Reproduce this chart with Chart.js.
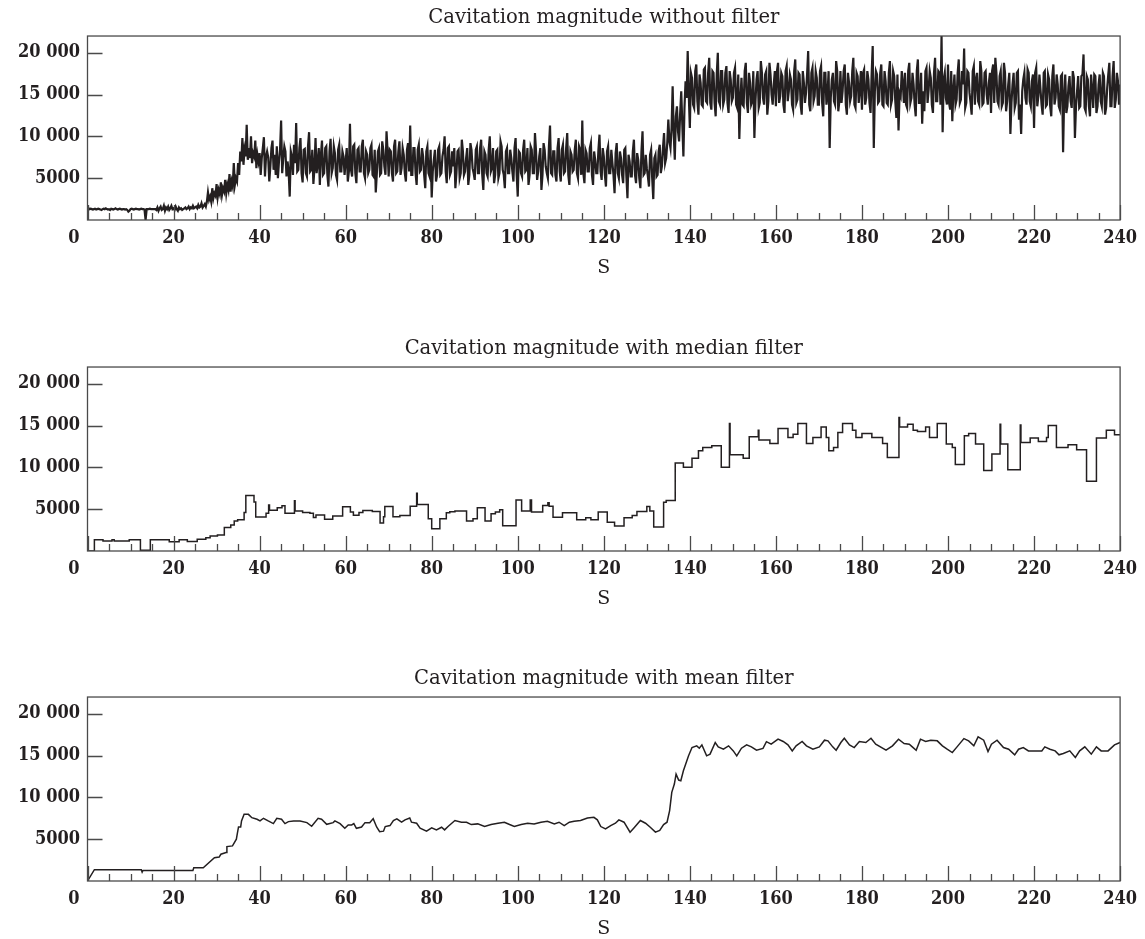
<!DOCTYPE html>
<html><head><meta charset="utf-8">
<script src="https://cdn.jsdelivr.net/npm/chart.js@4/dist/chart.umd.min.js"></script>
<style>
html,body{margin:0;padding:0;background:#fff;overflow:hidden;width:1145px;height:939px;}
canvas{position:absolute;left:0;}
</style></head><body>
<canvas id="c1" width="1145" height="290" style="top:0px"></canvas>
<canvas id="c2" width="1145" height="290" style="top:331px"></canvas>
<canvas id="c3" width="1145" height="290" style="top:661px"></canvas>
<script>
// ---- Data ----
const titles = [
  'Cavitation magnitude without filter',
  'Cavitation magnitude with median filter',
  'Cavitation magnitude with mean filter'
];
const xAxisTitle = 'S';
const xLabelTicks = [0,20,40,60,80,100,120,140,160,180,200,220,240];
const xMinorTicks = [5,10,15,25,30,35,45,50,55,65,70,75,85,90,95,105,110,115,125,130,135,145,150,155,165,170,175,185,190,195,205,210,215,225,230,235];
const yTickValues = [5000,10000,15000,20000];

// raw signal, one sample every 0.25 s from 0 to 240 s (each row = 5 s)
const rawSampleStep = 0.25;
const rawValues = [
1500,1400,1300,1350,1300,1250,1300,1350,1250,1300,1350,1300,1250,1200,1300,1350,1300,1400,1300,1250,
1300,1200,1350,1300,1250,1300,1400,1300,1250,1300,1350,1300,1250,1300,1300,1250,1300,1200,1000,1100,
1300,1350,1300,1250,1300,1350,1300,1300,1250,1300,1350,1300,1300,1250,0,1300,1300,1300,1350,1300,
1300,1300,1300,1300,1200,1500,1100,1400,1600,1200,1300,1700,1100,1500,1300,1600,1200,1400,1700,1300,
1400,1200,1600,1300,1100,1500,1300,1400,1200,1300,1400,1500,1300,1400,1600,1300,1500,1400,1700,1400,
1500,1600,1400,1800,1500,1600,2000,1500,1700,1900,1600,2200,3300,2400,2800,2200,3800,2600,3200,2900,
4300,2700,3600,3100,4500,3000,3800,3400,4800,3200,4200,3600,5500,3400,4600,4000,6800,4200,5000,4600,
6800,5400,8200,7000,9800,6600,8400,7600,11400,7200,8600,7400,10000,6800,8000,7600,9500,6200,7800,7000,
8000,5400,7400,8600,9900,5200,7600,8200,7500,4600,6400,8600,9500,6000,7800,5400,8800,5000,7000,8400,
11900,5600,7400,8800,8200,5200,7000,5800,2800,8200,7600,5400,9000,6800,11600,5800,6000,8600,9800,5600,
4500,8400,8500,5600,5200,8800,10500,5800,6000,8400,4300,6200,9800,5600,6800,8600,4200,7800,9500,5400,
5600,8600,8800,5400,4000,8200,9700,5600,6200,8800,8000,5400,4800,8400,9000,5800,5800,8200,7600,5400,
7000,8600,4600,5800,11500,6000,5200,8800,9000,5600,4400,8400,8600,5800,5800,8800,9600,5600,5000,8200,
7800,5600,6000,8600,9000,5400,5200,8400,3300,5600,8200,8600,5400,5600,9400,8400,6400,5400,10600,8200,
5200,8400,8200,5600,4600,8800,9600,5600,5800,8200,9400,5400,6200,8600,7800,5600,4600,8400,9200,5800,
11300,5400,5400,8600,8600,5600,4200,8400,9000,5800,6000,8600,7600,5400,3800,8200,8800,5600,5200,8400,
2700,5800,7200,8400,4600,5400,8400,8800,5400,5600,7600,8400,10000,5800,4400,8600,8800,5400,5800,8200,
6400,8600,3800,5600,8200,8400,5000,5600,9600,8200,5400,5800,7400,8600,4200,5400,9200,8400,6200,5600,
4800,8400,8800,5600,5600,8600,9600,5400,3600,8200,7800,5600,5200,8400,10000,5800,6200,8600,4400,5400,
8200,8400,5000,5600,9400,8800,6000,5400,3800,8200,8600,5600,5600,8400,7400,5800,4600,8600,9800,5400,
2800,8200,8000,5600,5200,8400,9600,5800,6000,8600,4200,5400,8800,8400,5600,5600,10400,8200,4800,5800,
7600,8600,3600,5400,9200,8400,6400,5600,5000,8800,11300,5600,5400,8200,8200,5400,4600,8600,9800,5800,
4600,8400,9000,5600,5800,8600,10400,5400,4200,8200,7800,5800,6000,8400,9600,5600,5000,8800,8400,5400,
11900,5600,4400,8400,8000,5800,5800,8600,9200,5400,4200,8200,7200,5600,5600,8400,10200,5800,4800,8600,
7600,5400,4000,8200,8800,5600,5600,8400,6800,5400,3200,8000,9200,5600,5000,8200,7400,5400,4400,8400,
8600,5200,2600,7800,7000,5200,5200,8200,9600,5400,4400,8000,7200,5000,3800,8200,10600,5400,5600,7800,
6200,5200,4000,7800,8400,5000,2500,7400,7800,5200,5400,8200,9000,5600,6400,8600,10400,6800,7400,9200,
12000,9400,8600,11000,16000,10400,7200,12400,13600,10600,9400,12800,15400,11400,7600,13400,16600,14600,20200,15000,
11000,17600,17000,13800,13400,17800,18600,14200,12600,17400,16400,13800,13600,18000,18200,14200,14000,17600,19400,14000,
13200,17800,17600,14000,12400,17400,20000,14200,13800,17800,17800,13800,14400,17600,18400,14000,12800,17800,16800,14200,
14600,17600,18200,13800,13400,17400,9700,14400,17000,13800,13600,17800,18800,14000,12800,17600,16400,13800,14200,17800,
9800,14200,16800,17800,13400,14000,19000,17600,14600,13800,17400,17800,12600,14200,18800,17400,15000,13800,16200,17800,
13600,17800,18800,14000,14800,17600,17200,13800,12800,17800,18400,14200,15400,17400,16800,13800,13200,17800,19200,14000,
14400,17600,17400,13800,12600,17800,16400,14000,15200,17400,20200,13800,13000,17600,18200,14200,14800,17800,17000,13800,
13800,17800,18400,14000,12400,17600,17600,13800,15000,17800,8600,14600,16800,17600,14200,13800,19000,17800,13000,14200,
17800,14000,15400,17800,18600,13800,12600,17600,16400,14200,14800,17800,19400,13800,13400,17600,17200,14000,15600,17800,
13200,17600,18000,13800,14600,17800,16800,14000,12800,17400,20800,8600,15400,17800,17400,14000,14200,17600,18600,13800,
13600,17800,16600,14000,13800,17600,19000,13800,14400,17800,17200,14200,12200,17400,10700,15200,14800,17800,16400,14000,
17600,13800,13400,17800,18800,14000,14600,17600,16200,13800,12400,17800,19200,14000,14000,17600,11500,15400,13000,17800,
18200,14000,15600,17800,17000,13800,12800,17600,19400,14200,14200,17800,17600,13800,22000,10500,16800,17600,14600,13800,
18600,14000,13200,17800,11800,15400,17400,13800,14400,17600,19200,14000,14400,17800,16200,20500,13400,14000,17800,17600,
15200,14000,12600,17800,18400,13800,16800,17600,14200,13800,19000,17800,13800,14000,17600,17800,15000,13800,16400,17600,
12800,17800,18600,14000,19400,17600,14200,13800,17200,17800,13600,14000,18800,17600,13000,14200,16200,17600,10300,14000,
16200,17600,13400,14000,17600,17800,12000,13800,10300,15400,16800,17600,14600,13800,18000,17600,14200,13600,16600,17400,
11000,17600,18200,13600,14800,17400,15600,13800,12600,17600,17800,13600,13800,17400,16800,13600,12400,17200,18600,13800,
14600,17400,16200,13600,13200,17200,17400,8100,14800,17400,12800,13600,16000,17200,14200,13400,17800,17000,9800,13600,
15400,17200,13400,13600,17200,17400,19800,13400,13000,17200,16800,13600,12400,17400,15600,13400,17400,17200,12800,13600,
16200,17400,14200,13600,17600,17200,12600,13400,15800,17400,18800,13600,13600,17200,19000,13400,14400,17600,16600,13800,
16200
];

// median filter output: [step start time (s), value] – each value holds until the next step
const medianSteps = [
[0,0],[1.6,1350],[3.6,1200],[5.7,1350],[6.2,1200],[9.7,1350],[12.3,100],[14.6,1350],[19.0,1100],[21.3,1350],
[23.2,1150],[25.5,1400],[27.5,1580],[28.5,1780],[30.2,1900],[31.8,2800],[33.3,3100],[34.1,3600],[34.9,3750],[36.4,4600],
[36.8,6650],[38.7,5850],[39.1,4060],[41.5,4500],[42.1,5500],[42.3,4860],[44.1,5180],[45.2,5400],[45.9,4500],[48.1,6000],
[48.25,4780],[50.0,4600],[51.7,4500],[52.5,4000],[53.1,4300],[55.1,3800],[57.0,4200],[59.3,5300],[61.1,4660],[61.8,4260],
[63.1,4600],[64.0,4850],[66.2,4730],[68.0,3350],[68.8,4100],[69.1,5320],[71.0,4100],[72.6,4250],[75.0,5360],[76.5,6900],
[76.65,5560],[79.2,3860],[80.0,2660],[81.9,3860],[83.4,4570],[84.2,4690],[85.4,4770],[88.1,3580],[89.6,3860],[90.6,5170],
[92.4,3580],[93.8,4450],[94.8,4650],[95.8,4930],[96.5,3020],[99.6,6110],[100.9,4770],[102.9,6110],[103.2,4650],[105.8,5440],
[107.0,5760],[107.3,5360],[108.2,4050],[110.4,4570],[113.7,3730],[115.8,3970],[117.0,3730],[118.7,4650],[120.8,3450],[122.5,2980],
[124.7,3970],[126.6,4250],[127.7,4730],[130.0,5320],[130.7,4770],[131.6,2860],[133.9,5840],[134.5,6040],[136.6,10520],[138.5,10000],
[140.5,11080],[142.0,11990],[143.0,12390],[145.1,12590],[147.3,10000],[149.2,15250],[149.35,11520],[152.4,11080],[153.8,13650],[155.9,14450],
[156.05,13260],[158.6,12860],[160.5,14650],[162.8,13580],[164.0,13970],[165.1,15250],[167.1,12860],[168.6,13580],[170.5,14840],[171.7,13580],
[172.3,11990],[173.4,12390],[174.4,14170],[175.5,15250],[177.8,14450],[178.6,13580],[180.0,14050],[182.3,13580],[184.8,12860],[185.9,11190],
[188.6,15960],[188.75,14840],[190.6,15160],[191.9,14450],[192.9,14290],[194.8,14840],[195.7,13580],[197.5,15250],[199.6,12780],[201.0,12390],
[201.7,10330],[203.8,13780],[204.8,14050],[206.4,12780],[208.3,9630],[210.2,11610],[212.1,15160],[212.25,12780],[213.9,9710],[216.8,15080],
[216.95,12980],[219.1,13500],[221.0,13100],[222.9,13580],[223.3,15000],[225.2,12390],[227.9,12700],[229.9,12100],[232.2,8330],[234.5,13500],
[236.8,14450],[238.7,13900],[240,13900]
];

// mean filter output: [time (s), value]
const meanPoints = [
[0,0],[1.6,1350],[12.5,1350],[12.7,1070],[12.9,1270],[24.5,1270],[24.7,1590],[26.9,1590],[29.5,2780],[30.6,2860],
[31.0,3200],[32.2,3400],[32.4,4120],[33.7,4200],[34.6,5000],[34.8,5600],[35.1,6460],[35.6,6460],[35.8,7180],[36.4,7970],
[37.4,7970],[38.2,7570],[39.4,7380],[40.1,7180],[40.9,7500],[42.0,7180],[43.2,6860],[44.0,7500],[45.1,7380],[45.9,6860],
[46.7,7100],[47.9,7180],[49.4,7180],[51.0,6980],[52.1,6540],[53.6,7500],[54.4,7380],[55.6,6780],[57.1,6980],[57.5,7180],
[58.7,6860],[59.8,6300],[60.6,6700],[61.4,6700],[61.9,6860],[62.5,6300],[63.7,6460],[64.5,6980],[65.6,6980],[66.4,7460],
[67.2,6460],[67.9,5900],[68.8,5960],[69.2,6510],[70.3,6630],[71.1,7230],[71.9,7430],[73.0,7030],[73.8,7310],[74.9,7540],
[75.3,7030],[76.5,6910],[77.3,6310],[78.8,5960],[80.0,6350],[81.1,6110],[82.3,6430],[83.0,6110],[83.8,6510],[85.4,7230],
[86.9,7030],[88.1,7030],[89.2,6750],[90.7,6830],[92.3,6510],[93.8,6750],[95.4,6910],[96.9,7030],[98.1,6750],[99.2,6510],
[100.8,6750],[102.3,6910],[103.8,6830],[105.4,7030],[106.9,7150],[108.5,6830],[109.6,7030],[110.8,6630],[112.0,7030],[113.1,7150],
[114.6,7230],[116.2,7540],[117.7,7620],[118.5,7310],[119.3,6510],[120.4,6230],[121.6,6630],[122.7,6910],[123.5,7310],[124.7,7030],
[126.1,5840],[127.0,6350],[128.5,7230],[129.7,6910],[130.8,6430],[132.0,5840],[133.0,6040],[133.9,6750],[134.7,7030],[135.3,8420],
[135.8,10600],[136.4,11590],[136.8,12780],[137.4,12070],[137.9,11990],[138.5,13180],[139.7,14970],[140.5,15960],[141.6,16160],[142.2,15880],
[142.8,16280],[143.9,14970],[144.7,15170],[145.9,16560],[146.6,16040],[147.8,15760],[149.0,16160],[150.1,15560],[150.9,14970],[152.0,15880],
[153.2,16280],[154.3,16040],[155.5,15640],[157.0,15860],[157.8,16660],[158.9,16360],[160.5,16960],[161.7,16680],[162.8,16280],[163.8,15560],
[164.7,16160],[166.1,16680],[167.1,16160],[168.6,15760],[170.1,16040],[171.3,16840],[172.1,16760],[173.2,16040],[174.0,15640],[175.1,16560],
[175.9,17070],[177.1,16280],[178.2,15960],[179.4,16680],[180.9,16560],[182.1,17070],[183.2,16360],[185.6,15640],[187.1,16160],[188.5,16960],
[189.8,16440],[191.0,16360],[191.7,16040],[192.6,15640],[193.6,16960],[194.8,16680],[196.0,16840],[197.5,16760],[198.7,16160],[199.8,15760],
[201.0,15360],[202.1,16040],[203.7,17030],[204.8,16760],[206.0,16160],[207.0,17230],[208.3,16840],[209.3,15480],[210.1,16360],[211.4,16840],
[212.9,15960],[214.1,15760],[215.5,15090],[216.4,15760],[217.5,15960],[218.7,15560],[221.8,15560],[222.5,16040],[223.7,15760],[224.9,15560],
[225.8,15090],[226.8,15250],[228.3,15560],[229.6,14770],[230.6,15560],[231.8,16040],[233.3,15170],[234.5,16040],[235.6,15560],[237.2,15560],
[238.7,16280],[240,16560]
];

// ---- Styling ----
const FONT_FAMILY = '"DejaVu Serif", "Liberation Serif", serif';
const TICK_FAMILY = '"DejaVu Serif Condensed", "DejaVu Serif", serif';
const TEXT = '#231f20';
const LINE = '#231f20';
const FRAME = '#4a4a4a';
const TICK_FONT = { family: TICK_FAMILY, size: 18, weight: 'bold' };
const X_TICK_PAD = 8;

function formatY(v) {
  if (v >= 10000) return Math.floor(v / 1000) + ' ' + String(v % 1000).padStart(3, '0');
  return String(v);
}

const framePlugin = {
  id: 'frame',
  afterDraw(chart) {
    const { ctx, chartArea: a, scales: { x, y } } = chart;
    ctx.save();
    ctx.strokeStyle = FRAME;
    ctx.lineWidth = 1.3;
    ctx.strokeRect(a.left, a.top, a.right - a.left, a.bottom - a.top);
    ctx.beginPath();
    xMinorTicks.forEach(v => { const px = Math.round(x.getPixelForValue(v)) + 0.5; ctx.moveTo(px, a.bottom); ctx.lineTo(px, a.bottom - 7); });
    xLabelTicks.forEach(v => { const px = Math.round(x.getPixelForValue(v)) + 0.5; ctx.moveTo(px, a.bottom); ctx.lineTo(px, a.bottom - 15); });
    yTickValues.forEach(v => { const py = Math.round(y.getPixelForValue(v)) + 0.5; ctx.moveTo(a.left, py); ctx.lineTo(a.left + 15, py); });
    ctx.stroke();
    ctx.fillStyle = TEXT;
    ctx.font = `${TICK_FONT.weight} ${TICK_FONT.size}px ${TICK_FAMILY}`;
    ctx.textAlign = 'center';
    ctx.textBaseline = 'middle';
    ctx.fillText('0', x.getPixelForValue(0) - 13.5, a.bottom + X_TICK_PAD + TICK_FONT.size * 1.2 / 2);
    ctx.restore();
  }
};

function makeChart(id, title, points, stepped, lineWidth) {
  const canvas = document.getElementById(id);
  const H = canvas.height;
  return new Chart(canvas.getContext('2d'), {
    type: 'line',
    data: {
      datasets: [{
        data: points,
        borderColor: LINE,
        borderWidth: lineWidth,
        pointRadius: 0,
        stepped: stepped,
        tension: 0,
        fill: false,
        borderJoinStyle: 'miter'
      }]
    },
    options: {
      responsive: false,
      animation: false,
      devicePixelRatio: 1,
      events: [],
      layout: { padding: { left: 0, right: 19.5, top: 0, bottom: 0 } },
      plugins: {
        legend: { display: false },
        tooltip: { enabled: false },
        title: {
          display: true,
          text: title,
          fullSize: false,
          color: TEXT,
          font: { family: FONT_FAMILY, size: 19.6, weight: 'normal' },
          padding: { top: 6.5, bottom: 6 }
        }
      },
      scales: {
        x: {
          type: 'linear',
          min: 0, max: 240,
          afterBuildTicks: s => { s.ticks = xLabelTicks.map(v => ({ value: v })); },
          afterFit: s => { s.height = H - 220; },
          grid: { display: false, drawTicks: false },
          border: { display: false },
          ticks: {
            padding: X_TICK_PAD, color: TEXT, font: TICK_FONT,
            maxRotation: 0, autoSkip: false,
            callback: v => (v === 0 ? '' : String(v))
          },
          title: {
            display: true, text: xAxisTitle, color: TEXT,
            font: { family: FONT_FAMILY, size: 19, weight: 'normal' },
            padding: { top: 0, bottom: 10.5 }
          }
        },
        y: {
          type: 'linear',
          min: 0, max: 22000,
          afterBuildTicks: s => { s.ticks = yTickValues.map(v => ({ value: v })); },
          afterFit: s => { s.width = 87.5; },
          grid: { display: false, drawTicks: false },
          border: { display: false },
          ticks: { padding: 7.5, color: TEXT, font: TICK_FONT, callback: v => formatY(v) }
        }
      }
    },
    plugins: [framePlugin]
  });
}

const rawPoints = rawValues.map((v, i) => ({ x: i * rawSampleStep, y: v }));
const medianPointsXY = medianSteps.map(p => ({ x: p[0], y: p[1] }));
const meanPointsXY = meanPoints.map(p => ({ x: p[0], y: p[1] }));

makeChart('c1', titles[0], rawPoints, false, 2.2);
makeChart('c2', titles[1], medianPointsXY, 'before', 1.5);
makeChart('c3', titles[2], meanPointsXY, false, 1.5);
</script>
</body></html>
